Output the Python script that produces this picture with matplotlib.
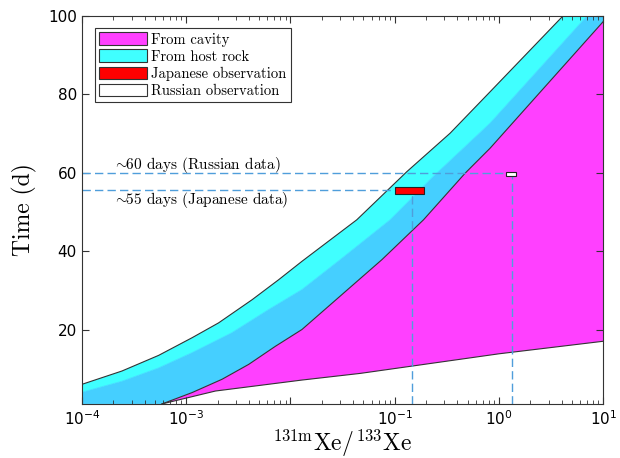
import numpy as np
import matplotlib.pyplot as plt
from matplotlib.patches import Patch, Rectangle

plt.rcParams['mathtext.fontset'] = 'cm'
plt.rcParams['axes.unicode_minus'] = False

# boundary curves (ratio, time in days)
x_host_top = [1.0e-4, 2.42e-4, 5.45e-4, 1.14e-3, 2.05e-3, 4.29e-3, 7.71e-3,
              1.29e-2, 4.33e-2, 0.131, 0.340, 0.824, 4.10]
t_host_top = [6.0, 9.4, 13.4, 17.9, 21.7, 27.6, 32.7, 37.4, 48.0, 60.3, 70.1, 80.7, 100.0]

x_host_mid = [1.0e-4, 2.42e-4, 5.45e-4, 1.14e-3, 2.75e-3, 6.18e-3, 1.29e-2,
              2.99e-2, 9.04e-2, 0.235, 0.824, 6.97]
t_host_mid = [4.0, 6.8, 10.2, 14.1, 19.2, 25.1, 30.2, 37.8, 48.0, 59.1, 72.7, 100.0]

x_cav_top = [5.86e-4, 1.14e-3, 2.21e-3, 3.98e-3, 7.16e-3, 1.29e-2, 7.52e-2,
             0.189, 0.474, 0.824, 10.0]
t_cav_top = [1.0, 3.9, 7.3, 11.1, 15.7, 20.0, 37.8, 48.0, 59.9, 66.3, 98.6]

x_cav_bot = [5.86e-4, 1.91e-3, 1.29e-2, 4.68e-2, 1.0, 10.0]
t_cav_bot = [1.0, 4.3, 7.1, 8.8, 13.8, 17.0]

# observations: ratio range, time range, marker ratio, marker time
jp_x = [0.10, 0.19]
jp_t = [54.6, 56.4]
jp_mark = (0.148, 55.5)
ru_x = [1.17, 1.46]
ru_t = [59.3, 60.3]
ru_mark = (1.33, 60.0)

xmin, xmax = 1e-4, 10.0
ymin, ymax = 1.0, 100.0

c_mag = '#ff40ff'
c_cyan = '#40ffff'
c_blue = '#45cfff'
c_dash = '#4f9edb'
c_edge = '#333333'

fig = plt.figure(figsize=(6.2, 4.58), dpi=100)
ax = fig.add_axes([0.132, 0.118, 0.841, 0.847])

# host rock band (upper part)
px = x_host_top + [xmax] + x_host_mid[::-1]
py = t_host_top + [ymax] + t_host_mid[::-1]
ax.fill(px, py, color=c_cyan, lw=0)
# overlap band
px = x_host_mid + [xmax, xmax] + x_cav_top[::-1] + [xmin]
py = t_host_mid + [ymax, t_cav_top[-1]] + t_cav_top[::-1] + [ymin]
ax.fill(px, py, color=c_blue, lw=0)
# cavity
px = x_cav_top + x_cav_bot[::-1]
py = t_cav_top + t_cav_bot[::-1]
ax.fill(px, py, color=c_mag, lw=0)

ax.plot(x_host_top, t_host_top, color=c_edge, lw=0.8)
ax.plot(x_host_mid, t_host_mid, color='#3fe0ff', lw=0.6)
ax.plot(x_cav_top, t_cav_top, color=c_edge, lw=0.8)
ax.plot(x_cav_bot, t_cav_bot, color=c_edge, lw=0.8)

# dashed guides
for mx, mt in [jp_mark, ru_mark]:
    ax.plot([xmin, mx], [mt, mt], ls=(0, (6, 3)), color=c_dash, lw=1)
    ax.plot([mx, mx], [ymin, mt], ls=(0, (6, 3)), color=c_dash, lw=1)

ax.add_patch(Rectangle((jp_x[0], jp_t[0]), jp_x[1] - jp_x[0], jp_t[1] - jp_t[0],
                       facecolor='red', edgecolor='#222222', lw=0.8, zorder=5))
ax.add_patch(Rectangle((ru_x[0], ru_t[0]), ru_x[1] - ru_x[0], ru_t[1] - ru_t[0],
                       facecolor='white', edgecolor='#222222', lw=0.8, zorder=5))

ax.text(2e-4, 62, r'$\sim\!\!$60 days (Russian data)', family='cmr10', fontsize=11,
        va='center', ha='left')
ax.text(2e-4, 53.1, r'$\sim\!\!$55 days (Japanese data)', family='cmr10', fontsize=11,
        va='center', ha='left')

ax.set_xscale('log')
ax.set_xlim(xmin, xmax)
ax.set_ylim(ymin, ymax)
ax.set_xticks([1e-4, 1e-3, 1e-2, 1e-1, 1, 10])
ax.set_xticklabels(['$\\mathregular{10^{-4}}$', '$\\mathregular{10^{-3}}$', '',
                    '$\\mathregular{10^{-1}}$', '$\\mathregular{10^{0}}$',
                    '$\\mathregular{10^{1}}$'])
ax.set_yticks([20, 40, 60, 80, 100])
ax.tick_params(which='both', direction='in', top=True, right=True, labelsize=11,
               color=c_edge)
ax.tick_params(which='major', length=5)
ax.tick_params(which='minor', length=3)
for s in ax.spines.values():
    s.set_color(c_edge)
    s.set_linewidth(0.8)

ax.set_ylabel('Time (d)', family='cmr10', fontsize=17, labelpad=8)
ax.set_xlabel(r'$^{\mathrm{131m}}\mathrm{Xe}/^{\mathrm{133}}\mathrm{Xe}$', fontsize=17,
              labelpad=0)

handles = [Patch(facecolor=c_mag, edgecolor=c_edge, lw=0.8, label='From cavity'),
           Patch(facecolor=c_cyan, edgecolor=c_edge, lw=0.8, label='From host rock'),
           Patch(facecolor='red', edgecolor=c_edge, lw=0.8, label='Japanese observation'),
           Patch(facecolor='white', edgecolor=c_edge, lw=0.8, label='Russian observation')]
leg = ax.legend(handles=handles, loc='upper left', bbox_to_anchor=(0.025, 0.969),
                prop={'family': 'cmr10', 'size': 10.5}, fancybox=False,
                edgecolor=c_edge, framealpha=1, handlelength=3.3, handleheight=0.9,
                labelspacing=0.2, handletextpad=0.25, borderpad=0.3, borderaxespad=0)
leg.get_frame().set_linewidth(0.8)

fig.savefig('out.png', dpi=100)
